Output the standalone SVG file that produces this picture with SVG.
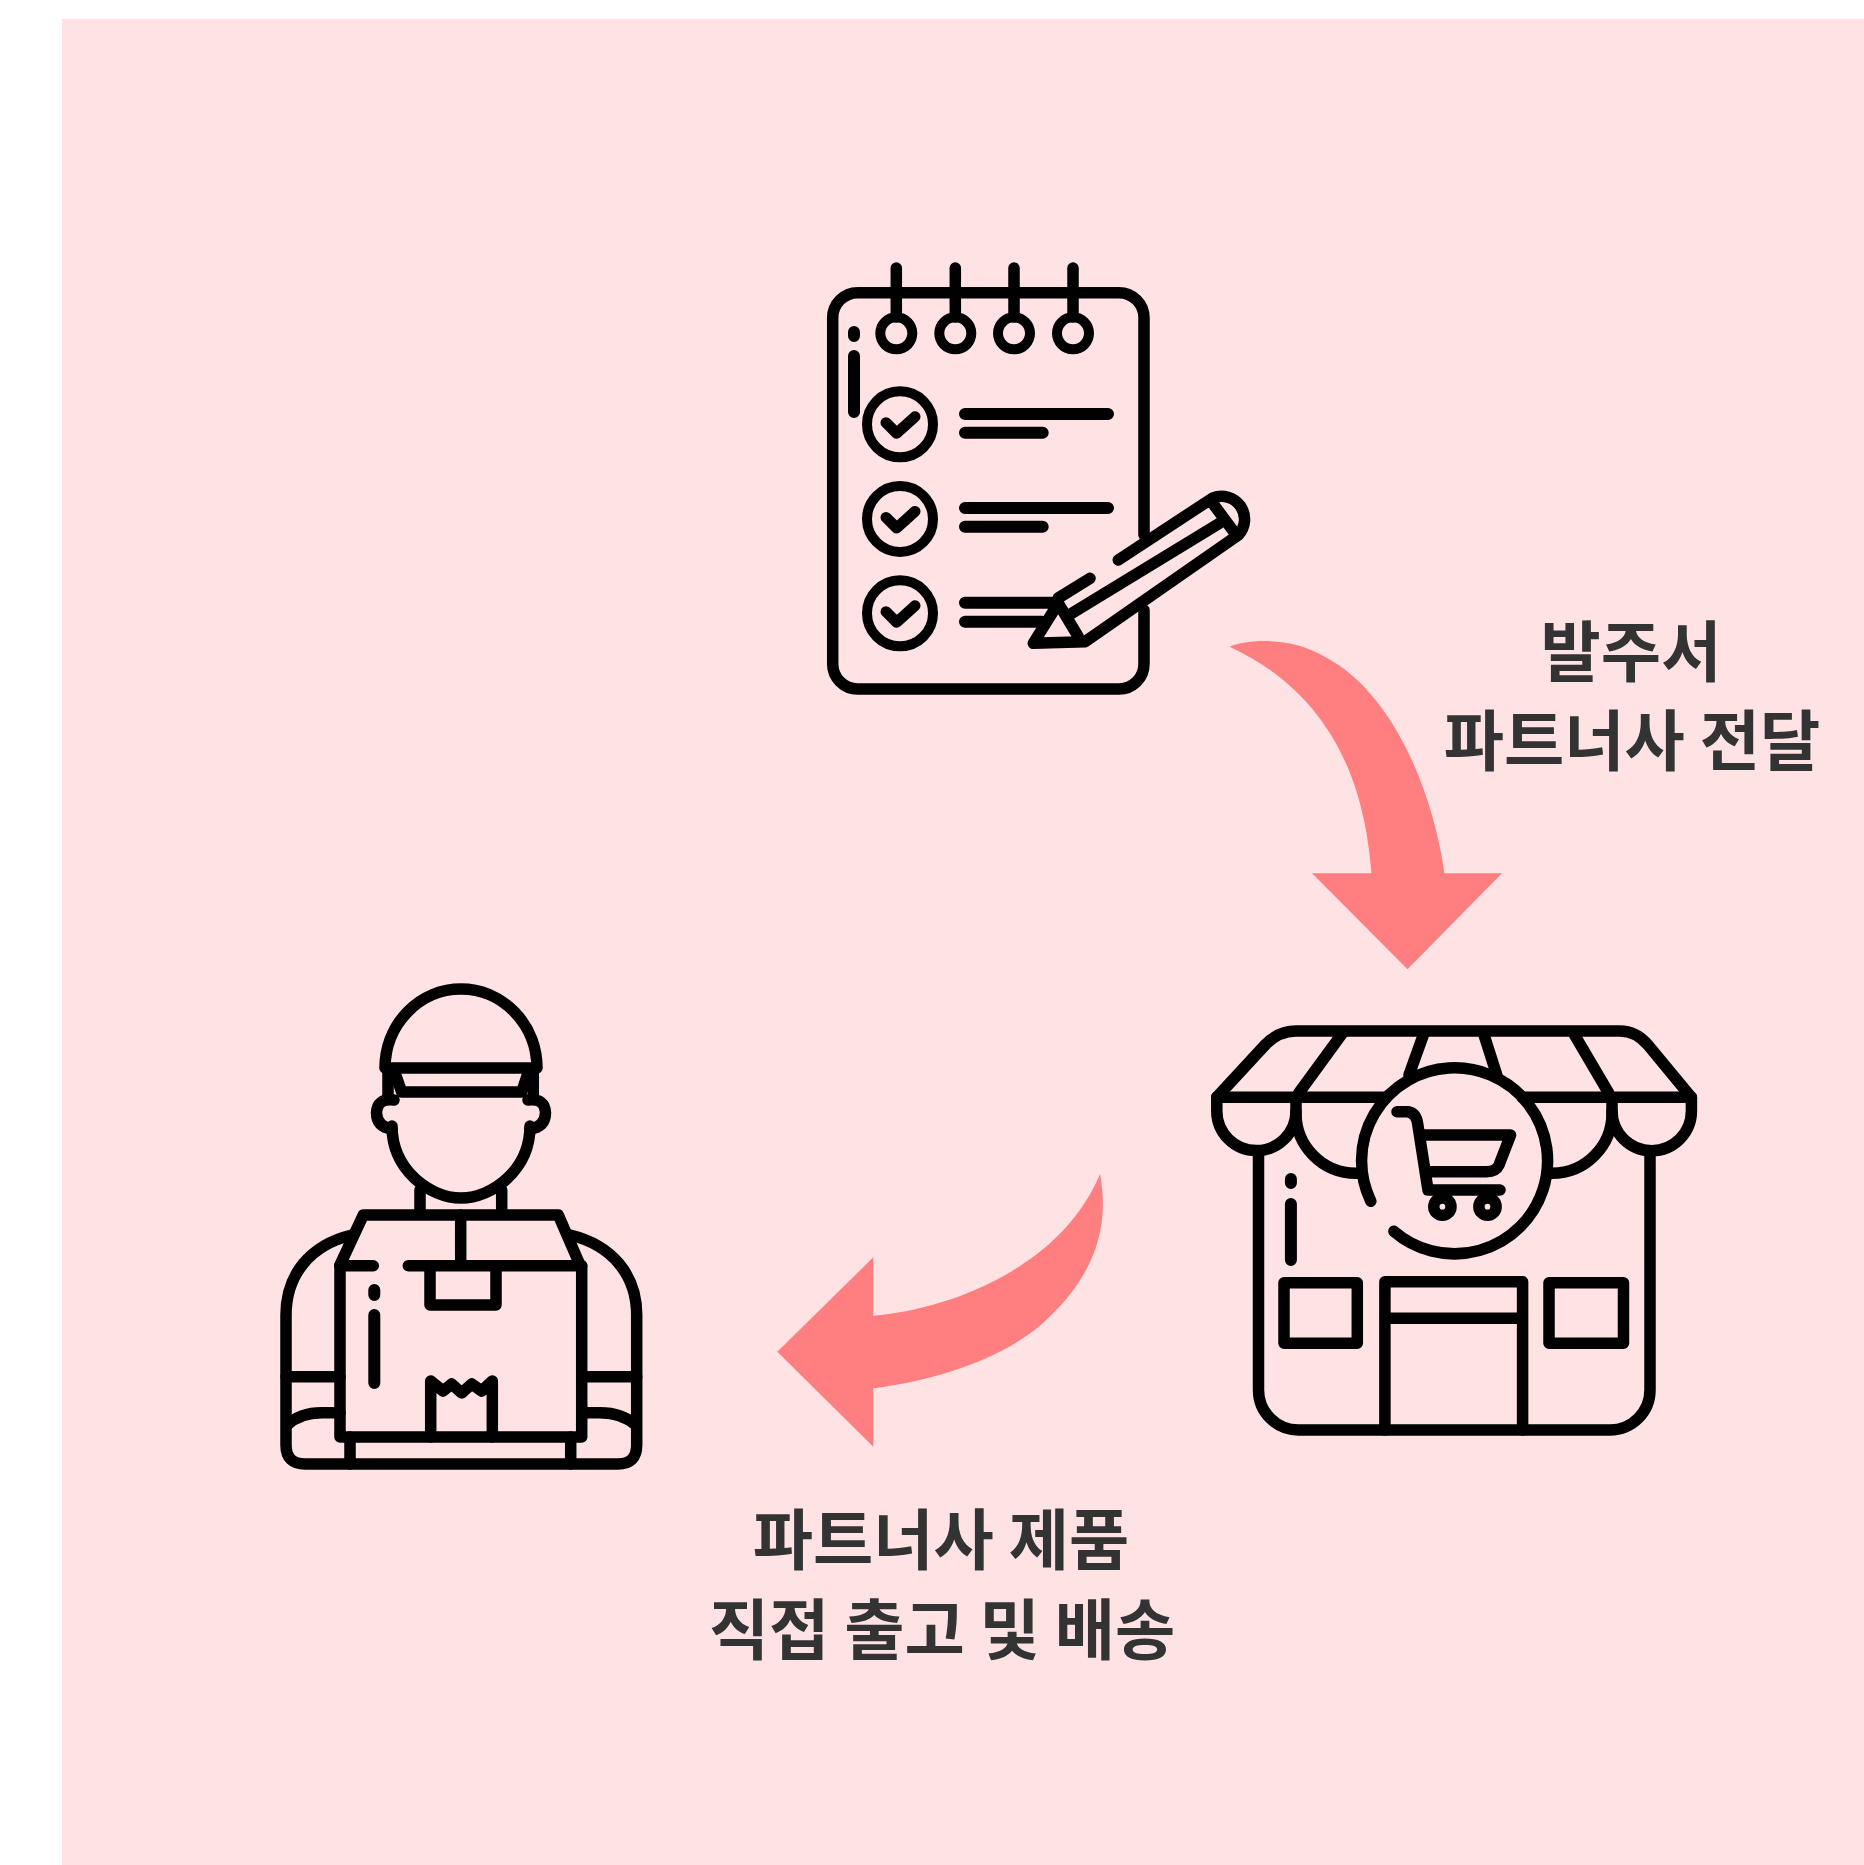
<svg xmlns="http://www.w3.org/2000/svg" width="1864" height="1865" viewBox="0 0 1864 1865">
<style>
.i{fill:none;stroke:#000;stroke-width:11.5;stroke-linecap:round;stroke-linejoin:round}
.t{stroke-width:12}
.a{fill:#ff7f80}
.l{font-family:"Noto Sans CJK KR","Noto Sans",sans-serif;font-size:65.5px;font-weight:700;fill:#333;text-anchor:middle}
</style>
<rect width="1864" height="1865" fill="#fff"/>
<rect x="62" y="19" width="1802" height="1846" fill="#ffe3e4"/>
<g id="connectors">
<path class="a" d="M1229.6,646.7C1245,640 1290,635 1327,658C1390,692 1432,785 1444.4,873.3H1502L1407.5,969.3L1312,873.3H1371.5C1366,805 1345,700 1229.6,646.7Z"/>
<path class="a" d="M1100,1174C1112,1238 1085,1285 1043,1323C1005,1357 940,1380 873.3,1388.3V1446.7L777.3,1351.7L873.3,1257.3V1315.7C945,1310 1060,1270 1100,1174Z"/>
</g>
<g id="notepad" class="i">
<path d="M1144,535V317.7A25,25 0 0 0 1119,292.7H857.7A25,25 0 0 0 832.7,317.7V664A25,25 0 0 0 857.7,689H1119A25,25 0 0 0 1144,664V610"/>
<g stroke-width="10">
<circle cx="896.3" cy="333.3" r="16"/><circle cx="955.3" cy="333.3" r="16"/><circle cx="1014" cy="333.3" r="16"/><circle cx="1073" cy="333.3" r="16"/>
</g>
<path d="M896.3,268V317M955.3,268V317M1014,268V317M1073,268V317"/>
<path class="t" d="M854,332V336M854,356V412"/>
<g stroke-width="10">
<circle cx="900" cy="424.3" r="33"/><circle cx="900" cy="519" r="33"/><circle cx="900" cy="613.3" r="33"/>
<path stroke-width="11" d="M886,422.7L896.7,433.3L915,416.7M886,517.4L896.7,528L915,511.4M886,611.7L896.7,622.3L915,605.7"/>
</g>
<path class="t" d="M965,414H1108M965,432.7H1042.7M965,508H1108M965,526.7H1042.7M965,602.7H1054M965,621.7H1042"/>
<path d="M1058.3,603.3L1033.3,643.3L1085,641.7L1238.3,535A23,23 0 0 0 1212.7,498L1118.3,560M1090,578.3L1058.3,598M1071.7,613.3L1219.3,523.3M1212.7,503.3L1235,533.3M1058.3,603.3L1078.3,636.7"/>
</g>
<g id="store" class="i">
<path d="M1217,1097L1266,1044Q1279,1031 1296,1031H1620Q1636,1031 1648,1045L1691,1097"/>
<path d="M1216.8,1097.3H1386M1522,1097.3H1691.4"/>
<path d="M1343.6,1031.7L1298.8,1093M1424.5,1031.7L1409,1075M1483,1031.7L1496.8,1075M1572.6,1031.7L1608.7,1093"/>
<path d="M1216.8,1097.3V1111A39.6,39.6 0 0 0 1296,1111V1097.3M1612,1097.3V1111A39.6,39.6 0 0 0 1691.4,1111V1097.3"/>
<path d="M1296,1112A60,60 0 0 0 1356,1173.3H1360M1612,1112A60,60 0 0 1 1552,1173.3H1548"/>
<path d="M1393.9,1231.3A93,93 0 1 0 1370.8,1201.2"/>
<path d="M1258.5,1153V1390A40,40 0 0 0 1298.5,1430H1610A40,40 0 0 0 1650,1390V1153"/>
<path class="t" d="M1290.9,1179V1183M1290.9,1204V1260"/>
<rect x="1284" y="1282.7" width="73.3" height="60.6"/>
<rect x="1549" y="1282.7" width="74.5" height="60.6"/>
<path d="M1384.9,1430V1281.7H1522.6V1430M1384.9,1318.3H1522.6"/>
<path d="M1397,1111.7H1408Q1416,1113 1417.6,1123.3L1428,1190H1500M1421,1135H1510.6L1499,1165Q1496,1171.7 1486.5,1171.7H1426"/>
<circle cx="1442.4" cy="1206.7" r="8.6"/><circle cx="1487.5" cy="1206.7" r="8.6"/>
</g>
<g id="courier" class="i">
<path d="M385,1068A76,79 0 0 1 537,1068Z"/>
<path d="M388,1068V1096M533.3,1068V1096"/>
<path d="M395,1073L401.7,1092H521.7L528,1073"/>
<path d="M394,1100Q377,1098 376.5,1113Q377,1127 392,1129M528,1100Q545,1098 545.5,1113Q545,1127 530,1129"/>
<path d="M392,1126C392,1170 430,1198 461,1198C492,1198 530,1170 530,1126"/>
<path d="M420,1190V1212M501.7,1190V1212"/>
<path d="M340,1265L363.3,1215H558.3L580,1265"/>
<path d="M460.7,1215V1265M340,1265.7H373.3M408.3,1265.7H581.7"/>
<path d="M340,1265.7V1437H581.7V1265.7"/>
<path d="M430,1265.7V1305H496V1265.7"/>
<path class="t" d="M374.3,1290V1295M374.3,1315V1383"/>
<path d="M430.7,1437V1381L443,1391L451.7,1384L461.7,1393L471.7,1384L481.7,1391L492.3,1381V1437"/>
<path d="M350,1437V1464M570.7,1437V1464"/>
<path d="M352,1235C310,1245 286,1275 286,1315V1445Q286,1464 305,1464H618Q636.7,1464 636.7,1445V1315C636.7,1275 612,1245 570,1235"/>
<path d="M286,1376.7H340M581.7,1376.7H636.7"/>
<path d="M287,1425Q300,1412.7 322,1412.7H340M635.7,1425Q622,1412.7 600,1412.7H581.7"/>
</g>
<g id="label-order">
<text class="l" x="1631" y="676">발주서</text>
<text class="l" x="1632" y="765">파트너사 전달</text>
</g>
<g id="label-ship">
<text class="l" x="941" y="1564">파트너사 제품</text>
<text class="l" x="942" y="1654">직접 출고 및 배송</text>
</g>
</svg>
